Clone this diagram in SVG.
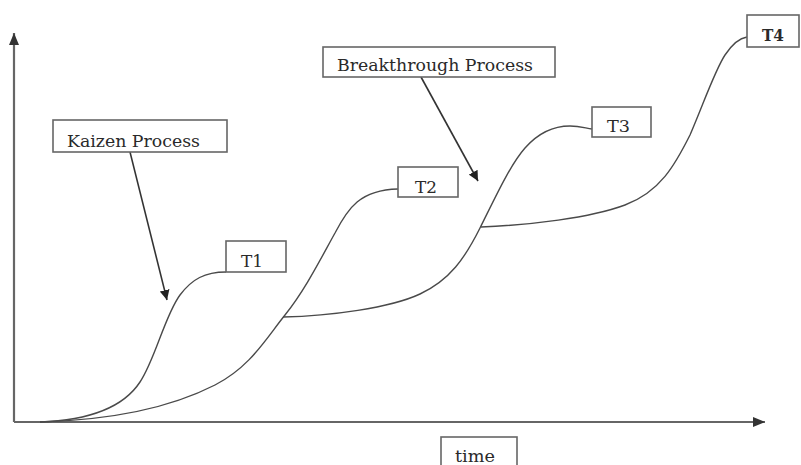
<svg xmlns="http://www.w3.org/2000/svg" width="801" height="465" viewBox="0 0 801 465">
<style>
.box{fill:#fff;stroke:#666;stroke-width:1.6}
.lbl{font-family:"DejaVu Serif","Liberation Serif",serif;font-size:17px;fill:#2a2a2a}
.curve{fill:none;stroke:#4a4a4a;stroke-width:1.4}
.axis{fill:none;stroke:#666;stroke-width:2.2}
.ptr{fill:none;stroke:#333;stroke-width:1.6}
</style>
<defs>
<marker id="ah" viewBox="0 0 10 10" refX="10" refY="5" markerWidth="10" markerHeight="10" markerUnits="userSpaceOnUse" orient="auto">
<path d="M0,0 L10,5 L0,10 z" fill="#222"/>
</marker>
<marker id="axh" viewBox="0 0 12 10" refX="12" refY="5" markerWidth="12" markerHeight="10" markerUnits="userSpaceOnUse" orient="auto">
<path d="M0,0 L12,5 L0,10 z" fill="#333"/>
</marker>
</defs>
<rect width="801" height="465" fill="#fff"/>
<g id="connectors">
<path class="axis" d="M14,422 L14,33" marker-end="url(#axh)"/>
<path class="axis" d="M14,422 L765,422" marker-end="url(#axh)"/>
<path class="curve" d="M40,422 C95,420 125,405 140,382 C155,360 165,315 180,295 C192,279 205,272 226,272"/>
<path class="curve" d="M40,422 C110,420 170,408 215,385 C250,367 265,340 285,315 C305,290 320,260 335,233 C348,208 360,190 398,189"/>
<path class="curve" d="M283,317 C330,316 390,308 420,294 C450,280 465,258 480,228 C495,198 510,165 525,148 C540,131 555,126 570,126 C580,126 585,128 592,129"/>
<path class="curve" d="M481,227 C530,225 590,218 625,205 C660,192 675,165 690,135 C703,105 715,70 725,55 C733,43 740,38 747,37"/>
<path class="ptr" d="M130,152 L167,300" marker-end="url(#ah)"/>
<path class="ptr" d="M421,77 L478,181" marker-end="url(#ah)"/>
</g>
<g id="kaizen">
<rect class="box" x="53" y="120" width="174" height="32"/>
<text class="lbl" x="67" y="147" textLength="133" lengthAdjust="spacingAndGlyphs">Kaizen Process</text>
</g>
<g id="breakthrough">
<rect class="box" x="323" y="47" width="232" height="30"/>
<text class="lbl" x="337" y="71" textLength="196" lengthAdjust="spacingAndGlyphs">Breakthrough Process</text>
</g>
<g id="t1">
<rect class="box" x="226" y="241" width="60" height="31"/>
<text class="lbl" x="241" y="267" textLength="22" lengthAdjust="spacingAndGlyphs">T1</text>
</g>
<g id="t2">
<rect class="box" x="398" y="167" width="60" height="30"/>
<text class="lbl" x="415" y="193" textLength="22" lengthAdjust="spacingAndGlyphs">T2</text>
</g>
<g id="t3">
<rect class="box" x="592" y="107" width="59" height="30"/>
<text class="lbl" x="607" y="132" textLength="23" lengthAdjust="spacingAndGlyphs">T3</text>
</g>
<g id="t4">
<rect class="box" x="747" y="15" width="52" height="32"/>
<text class="lbl" x="762" y="41" font-weight="bold" textLength="22" lengthAdjust="spacingAndGlyphs">T4</text>
</g>
<g id="time">
<rect class="box" x="441" y="437" width="76" height="36"/>
<text class="lbl" x="455" y="462" textLength="40" lengthAdjust="spacingAndGlyphs">time</text>
</g>
</svg>
